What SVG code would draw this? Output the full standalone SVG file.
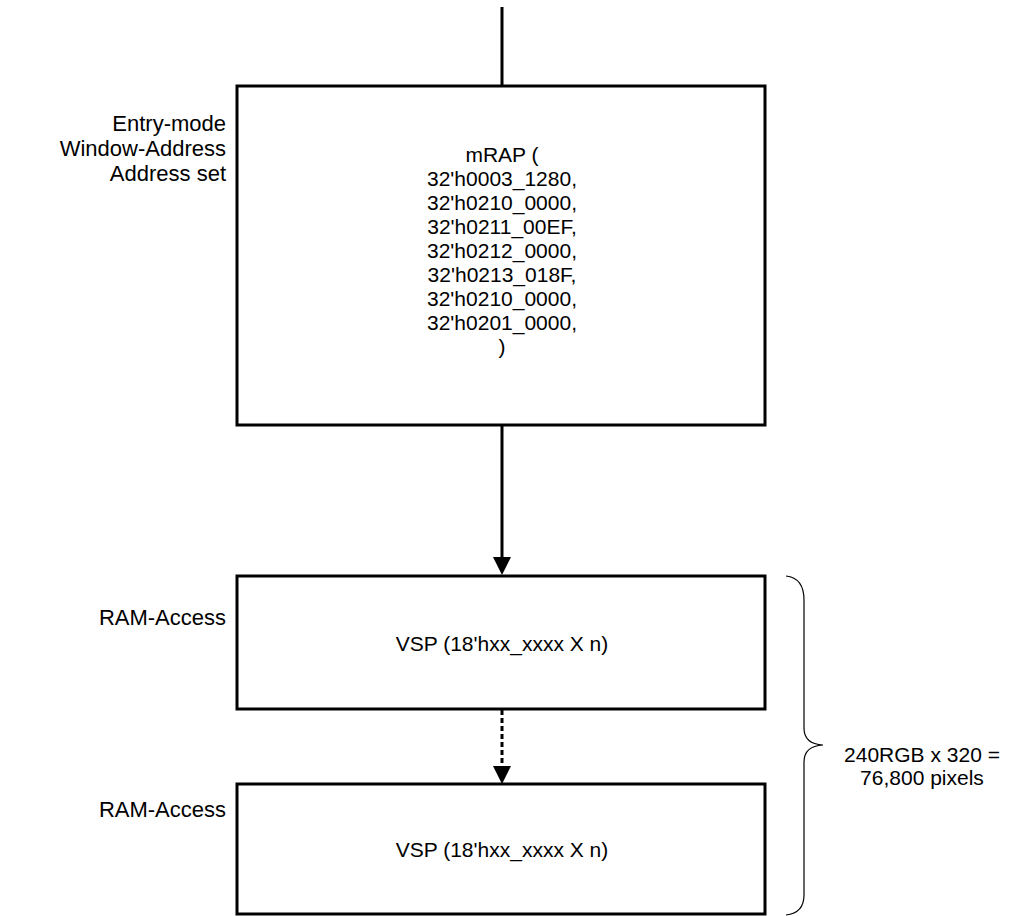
<svg xmlns="http://www.w3.org/2000/svg" width="1011" height="916" viewBox="0 0 1011 916">
<defs>
<style>
text{font-family:"Liberation Sans",Arial,sans-serif;fill:#000}
.box{fill:#fff;stroke:#000;stroke-width:3}
.lbl{font-size:22px;text-anchor:end}
.t{font-size:21px;text-anchor:middle}
.b{font-size:21px;text-anchor:middle}
.c{stroke:#000;stroke-width:3;fill:none}
.brace{stroke:#000;stroke-width:1.2;fill:none}
</style>
</defs>
<g id="connectors">
<line class="c" x1="502" y1="7" x2="502" y2="86"/>
<path class="c" d="M502,425 L502,558"/>
<path d="M493,557 L511,557 L502,575 z" fill="#000"/>
<path class="c" d="M502,710 L502,767" stroke-dasharray="5,3"/>
<path d="M493,766 L511,766 L502,784 z" fill="#000"/>
</g>
<g id="node-mrap">
<rect class="box" x="237" y="86" width="528" height="339"/>
<text class="t" x="502" y="162">mRAP (</text>
<text class="t" x="502" y="186">32'h0003_1280,</text>
<text class="t" x="502" y="210">32'h0210_0000,</text>
<text class="t" x="502" y="234">32'h0211_00EF,</text>
<text class="t" x="502" y="258">32'h0212_0000,</text>
<text class="t" x="502" y="282">32'h0213_018F,</text>
<text class="t" x="502" y="306">32'h0210_0000,</text>
<text class="t" x="502" y="330">32'h0201_0000,</text>
<text class="t" x="502" y="354">)</text>
</g>
<g id="label-entry">
<text class="lbl" x="226" y="131">Entry-mode</text>
<text class="lbl" x="226" y="156">Window-Address</text>
<text class="lbl" x="226" y="181">Address set</text>
</g>
<g id="node-vsp1">
<rect class="box" x="237" y="576" width="528" height="133"/>
<text class="t" x="502" y="651">VSP (18'hxx_xxxx X n)</text>
</g>
<g id="label-ram1">
<text class="lbl" x="226" y="625">RAM-Access</text>
</g>
<g id="node-vsp2">
<rect class="box" x="237" y="784" width="528" height="130"/>
<text class="t" x="502" y="857">VSP (18'hxx_xxxx X n)</text>
</g>
<g id="label-ram2">
<text class="lbl" x="226" y="817">RAM-Access</text>
</g>
<g id="brace">
<path class="brace" d="M786,576 Q804,578 804,600 L804,728 Q804,744 823,745 Q804,746 804,762 L804,895 Q804,913 786,915"/>
<text class="b" x="922" y="762">240RGB x 320 =</text>
<text class="b" x="922" y="785">76,800 pixels</text>
</g>
</svg>
